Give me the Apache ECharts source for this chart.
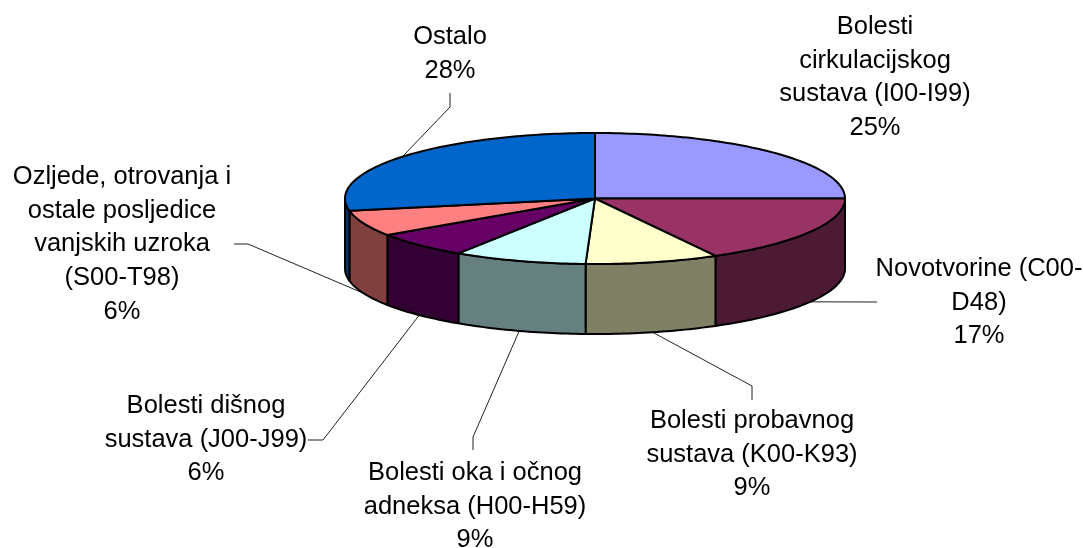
<!DOCTYPE html>
<html>
<head>
<meta charset="utf-8">
<style>html,body{margin:0;padding:0;background:#fff}#c{width:1083px;height:548px}</style>
<script src="https://cdn.jsdelivr.net/npm/echarts@6/dist/echarts.min.js"></script>
</head>
<body>
<div id="c"></div>
<script>
const categories = [
  'Bolesti\ncirkulacijskog\nsustava (I00-I99)',
  'Novotvorine (C00-\nD48)',
  'Bolesti probavnog\nsustava (K00-K93)',
  'Bolesti oka i očnog\nadneksa (H00-H59)',
  'Bolesti dišnog\nsustava (J00-J99)',
  'Ozljede, otrovanja i\nostale posljedice\nvanjskih uzroka\n(S00-T98)',
  'Ostalo'
];
const values = [25.0, 17.0, 8.6, 8.6, 6.4, 6.4, 28.0];
const topColors = ['#9999FF', '#993366', '#FFFFCC', '#CCFFFF', '#660066', '#FF8080', '#0066CC'];
const sideColors = ['#4D4D80', '#4D1A33', '#808066', '#668080', '#330033', '#804040', '#003366'];

// Label anchor (centre x, top y of text) and leader-line waypoints, in page pixels
const labelAnchors = [[875, 10], [979, 252], [752, 404], [475, 456], [206, 389], [122, 160], [450, 20]];
const leaderBends = [
  [],
  [[877, 302]],
  [[752, 386], [752, 400]],
  [[473, 437], [473, 450]],
  [[323, 440], [308, 440]],
  [[248, 244], [234, 244]],
  [[450, 107], [450, 93]]
];

const CX = 595, CY = 198.5, RX = 250, RY = 65.5, DEPTH = 70;
const FONT = '"Liberation Sans", Arial, sans-serif';
const total = values.reduce((a, b) => a + b, 0);
const starts = [];
values.reduce((acc, v, i) => { starts[i] = acc; return acc + v; }, 0);

// angle measured clockwise from the top of the pie
const ang = share => share / total * Math.PI * 2;
const pt = (a, dy) => [CX + RX * Math.sin(a), CY - RY * Math.cos(a) + (dy || 0)];
function arc(a0, a1, dy) {
  const n = Math.max(2, Math.ceil((a1 - a0) / 0.02));
  const out = [];
  for (let i = 0; i <= n; i++) out.push(pt(a0 + (a1 - a0) * i / n, dy));
  return out;
}
const range = i => [ang(starts[i]), ang(starts[i] + values[i])];
const seriesData = categories.map((name, i) => ({ name, value: values[i] }));

const option = {
  animation: false,
  backgroundColor: '#fff',
  tooltip: { show: false },
  series: [
    { // leader lines, under the pie
      type: 'custom', coordinateSystem: 'none', z: 1, silent: true, data: seriesData,
      renderItem(p) {
        const [a0, a1] = range(p.dataIndex);
        const mid = (a0 + a1) / 2;
        const front = Math.cos(mid) < 0;
        const start = pt(mid, front ? DEPTH : 0);
        const bends = leaderBends[p.dataIndex];
        if (!bends.length) return { type: 'group', children: [] };
        return {
          type: 'polyline',
          shape: { points: [start].concat(bends) },
          style: { fill: null, stroke: '#222', lineWidth: 1 }
        };
      }
    },
    { // side walls, front half only
      type: 'custom', coordinateSystem: 'none', z: 2, silent: true, data: seriesData,
      renderItem(p) {
        const i = p.dataIndex;
        const [s, e] = range(i);
        const a0 = Math.max(s, Math.PI / 2), a1 = Math.min(e, Math.PI * 1.5);
        if (a1 <= a0) return { type: 'group', children: [] };
        const pts = arc(a0, a1, 0).concat(arc(a0, a1, DEPTH).reverse());
        return {
          type: 'polygon', shape: { points: pts },
          style: { fill: sideColors[i], stroke: '#000', lineWidth: 2, lineJoin: 'round' }
        };
      }
    },
    { // top faces
      type: 'custom', coordinateSystem: 'none', z: 3, silent: true, data: seriesData,
      renderItem(p) {
        const i = p.dataIndex;
        const [s, e] = range(i);
        const pts = [[CX, CY]].concat(arc(s, e, 0));
        return {
          type: 'polygon', shape: { points: pts },
          style: { fill: topColors[i], stroke: '#000', lineWidth: 2, lineJoin: 'round' }
        };
      }
    },
    { // labels
      type: 'custom', coordinateSystem: 'none', z: 4, silent: true, data: seriesData,
      renderItem(p) {
        const i = p.dataIndex;
        const a = labelAnchors[i];
        return {
          type: 'text',
          style: {
            x: a[0], y: a[1],
            text: categories[i] + '\n' + Math.round(values[i] / total * 100) + '%',
            fill: '#000', font: '25.5px ' + FONT, lineHeight: 33.75,
            align: 'center', verticalAlign: 'top'
          }
        };
      }
    }
  ]
};
echarts.init(document.getElementById('c'), null, { renderer: 'canvas' }).setOption(option);
</script>
</body>
</html>
